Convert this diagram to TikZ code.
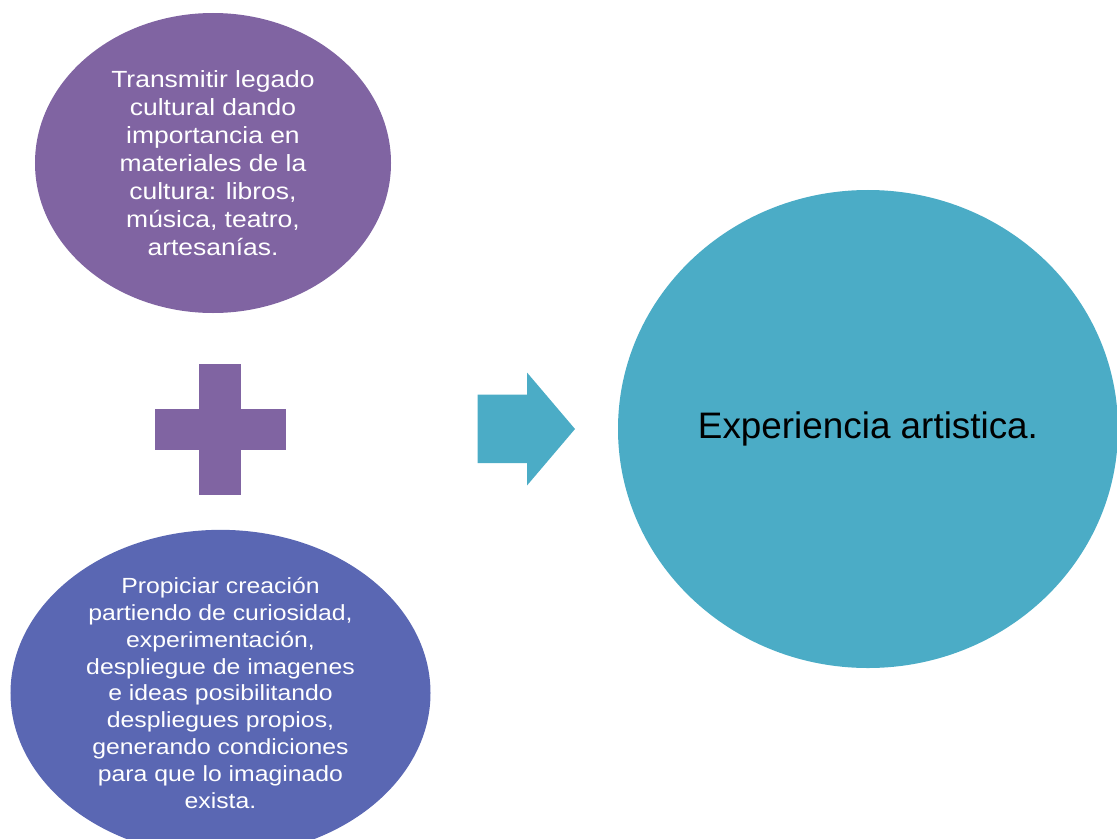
\documentclass[tikz,border=0pt]{standalone}
\usepackage{fontspec}
\setmainfont{Liberation Sans}
\newfontfamily\ancha[FakeStretch=1.13]{Liberation Sans}
\usetikzlibrary{shapes.geometric}
\definecolor{lila}{HTML}{8064A2}
\definecolor{azul}{HTML}{5A67B3}
\definecolor{turquesa}{HTML}{4BACC6}
\begin{document}
\begin{tikzpicture}[x=1bp,y=-1bp]
            \useasboundingbox (0,0) rectangle (1117,839);
            \begin{scope}[every node/.style={ellipse, draw=none, inner sep=0pt, align=center, text=white}]
                \node[fill=lila, minimum width=356bp, minimum height=300bp, font=\ancha\fontsize{23.5}{28}\selectfont] (legado) at (213, 163)
                    {Transmitir legado\\cultural dando\\importancia en\\materiales de la\\cultura: libros,\\música, teatro,\\artesanías.};
                \node[fill=azul, minimum width=420bp, minimum height=296bp, font=\ancha\fontsize{22}{26.9}\selectfont] (creacion) at (220.5, 693)
                    {Propiciar creación\\partiendo de curiosidad,\\experimentación,\\despliegue de imagenes\\e ideas posibilitando\\despliegues propios,\\generando condiciones\\para que lo imaginado\\exista.};
                \node[fill=turquesa, minimum width=500bp, minimum height=478bp, text=black, font=\fontsize{37}{44}\selectfont] (experiencia) at (868, 429)
                    {Experiencia artistica.};
            \end{scope}

            % signo mas
            \coordinate (mas) at (220, 429);
            \fill[lila] ([xshift=-65.5bp, yshift=20.5bp]mas) rectangle ([xshift=65.5bp, yshift=-20.5bp]mas);
            \fill[lila] ([xshift=-21bp, yshift=65.5bp]mas) rectangle ([xshift=21bp, yshift=-65.5bp]mas);

            % flecha
            \coordinate (punta) at (575, 429);
            \fill[turquesa] (477.5, 394.5) -- (527, 394.5) -- (527, 372.5) -- (punta)
                -- (527, 485.5) -- (527, 463) -- (477.5, 463) -- cycle;
        \end{tikzpicture}
\end{document}
